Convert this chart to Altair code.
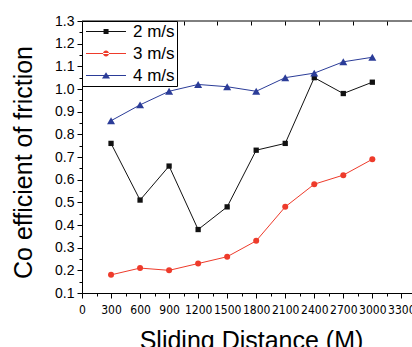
import altair as alt
import pandas as pd

# ---- data ----
distance = [300, 600, 900, 1200, 1500, 1800, 2100, 2400, 2700, 3000]
cof_2ms = [0.76, 0.51, 0.66, 0.38, 0.48, 0.73, 0.76, 1.05, 0.98, 1.03]
cof_3ms = [0.18, 0.21, 0.20, 0.23, 0.26, 0.33, 0.48, 0.58, 0.62, 0.69]
cof_4ms = [0.86, 0.93, 0.99, 1.02, 1.01, 0.99, 1.05, 1.07, 1.12, 1.14]
series = ["2 m/s", "3 m/s", "4 m/s"]
colors = ["#111111", "#ee3b2b", "#2b3c98"]
shapes = ["square", "circle", "triangle-up"]

x_ticks = [0, 300, 600, 900, 1200, 1500, 1800, 2100, 2400, 2700, 3000, 3300]
x_minor = [150, 450, 750, 1050, 1350, 1650, 1950, 2250, 2550, 2850, 3150]
top_ticks = [350, 700, 1050, 1400, 1750, 2100, 2450, 2800, 3150]
y_ticks = [0.1, 0.2, 0.3, 0.4, 0.5, 0.6, 0.7, 0.8, 0.9, 1.0, 1.1, 1.2, 1.3]
y_minor = [0.15, 0.25, 0.35, 0.45, 0.55, 0.65, 0.75, 0.85, 0.95, 1.05, 1.15, 1.25]

rows = []
for name, vals in zip(series, [cof_2ms, cof_3ms, cof_4ms]):
    for d, v in zip(distance, vals):
        rows.append({"distance": d, "cof": v, "series": name})
df = pd.DataFrame(rows)

FONT = "Liberation Sans, Arial, sans-serif"
NARROW = "Liberation Sans Narrow, Arial Narrow, DejaVu Sans Condensed, Liberation Sans, sans-serif"

xs = alt.Scale(domain=[0, 3410], nice=False, zero=False)
ys = alt.Scale(domain=[0.1, 1.3], nice=False, zero=False)
cs = alt.Scale(domain=series, range=colors)

# legend symbols: a thin line with the marker on it (unit = sqrt(size)/2 px)
legend_paths = [
    "M-1,-0.077H5.15V0.077H-1Z M1.7,-0.385H2.47V0.385H1.7Z",
    "M-1,-0.077H5.15V0.077H-1Z M1.62,0A0.46,0.46 0 1,0 2.54,0A0.46,0.46 0 1,0 1.62,0Z",
    "M-1,-0.077H5.15V0.077H-1Z M2.08,-0.5L2.7,0.45L1.46,0.45Z",
]

major_x = alt.Axis(
    orient="bottom", values=x_ticks, format="d", title="Sliding Distance (M)", grid=False,
    tickSize=5, tickColor="black", domainColor="black", labelPadding=6,
    labelFlush=False, labelOverlap=False, labelFont=NARROW, labelFontSize=12,
    labelColor="black", titleFont=FONT, titleFontSize=25, titleFontWeight="normal",
    titleColor="black", titleX=169, titleY=35)
major_y = alt.Axis(
    orient="left", values=y_ticks, format=".1f", title="Co efficient of friction",
    grid=False, tickSize=5, tickColor="black", domainColor="black", labelPadding=3,
    labelFont=FONT, labelFontSize=14, labelColor="black", titleFont=FONT,
    titleFontSize=25, titleFontWeight="normal", titleColor="black",
    titleX=-46, titleY=141)
minor_x = alt.Axis(orient="bottom", values=x_minor, labels=False, domain=False,
                   grid=False, tickSize=3, tickColor="black", title=None)
minor_y = alt.Axis(orient="left", values=y_minor, labels=False, domain=False,
                   grid=False, tickSize=3, tickColor="black", title=None)

layers = []
sizes = [28, 36, 64]
for i, (name, shp, sz, col) in enumerate(zip(series, shapes, sizes, colors)):
    sub = alt.Chart(df).transform_filter(alt.datum.series == name)
    line = sub.mark_line(strokeWidth=1, color=col).encode(
        x=alt.X("distance:Q", scale=xs, axis=major_x if i == 0 else None),
        y=alt.Y("cof:Q", scale=ys, axis=major_y if i == 0 else None),
    )
    pts = sub.mark_point(shape=shp, filled=True, size=sz, opacity=1, color=col).encode(
        x=alt.X("distance:Q", scale=xs, axis=minor_x if i == 0 else None),
        y=alt.Y("cof:Q", scale=ys, axis=minor_y if i == 0 else None),
    )
    layers += [line, pts]

leg = alt.Legend(
    title=None, orient="none", legendX=0, legendY=0, strokeColor="black",
    fillColor="white", padding=2, symbolSize=169, symbolStrokeWidth=0,
    labelFont=FONT, labelFontSize=17, labelColor="black", labelOffset=32,
    rowPadding=4, symbolOpacity=1,
    labelExpr="datum.label + '\u00a0\u00a0'",
)
legend_layer = alt.Chart(df).transform_filter("false").mark_point(
    filled=True, size=169, opacity=1
).encode(
    x=alt.X("distance:Q", scale=xs, axis=alt.Axis(
        orient="top", values=top_ticks, labels=False, domain=False, grid=False,
        tickSize=4, tickColor="black", offset=-4, title=None)),
    y=alt.Y("cof:Q", scale=ys, axis=None),
    color=alt.Color("series:N", scale=cs, legend=leg),
    shape=alt.Shape("series:N", scale=alt.Scale(domain=series, range=legend_paths), legend=leg),
)
layers.append(legend_layer)

top_edge = alt.Chart(pd.DataFrame({"edge": [1.3]})).mark_rule(
    color="black", strokeWidth=1
).encode(y=alt.Y("edge:Q", scale=ys, axis=None))
layers.append(top_edge)

chart = alt.layer(*layers).resolve_axis(
    x="independent", y="independent"
).properties(
    width=330, height=272,
    autosize=alt.AutoSizeParams(type="none"),
    padding={"left": 82, "top": 21, "right": 0, "bottom": 54},
    background="white",
).configure_view(stroke=None)

chart.save("out.html", embed_options={"renderer": "svg", "actions": False})
